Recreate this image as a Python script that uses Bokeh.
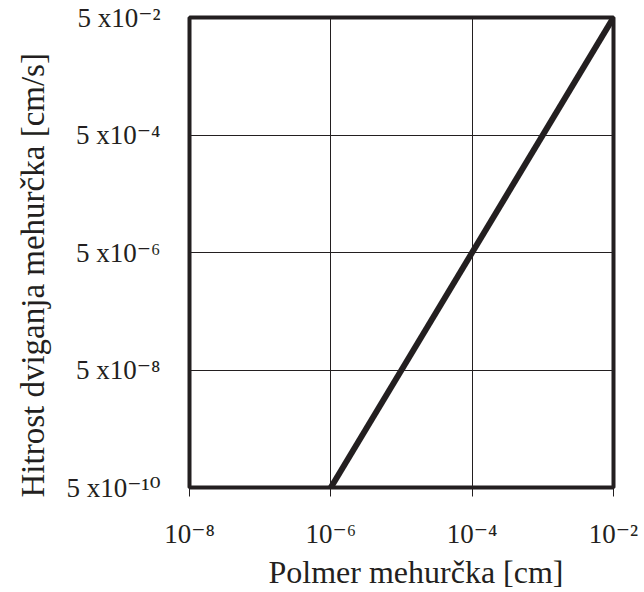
from bokeh.plotting import figure
from bokeh.models import FixedTicker, Title
from bokeh.embed import file_html
from bokeh.resources import INLINE

# --- data ---
radius_cm = [1e-6, 1e-2]          # Polmer mehurčka [cm]
velocity_cms = [5e-10, 5e-2]      # Hitrost dviganja mehurčka [cm/s]

x_ticks = [1e-8, 1e-6, 1e-4, 1e-2]
x_tick_labels = ["10⁻⁸", "10⁻⁶", "10⁻⁴", "10⁻²"]
y_ticks = [5e-10, 5e-8, 5e-6, 5e-4, 5e-2]
y_tick_labels = ["5 x10⁻¹⁰", "5 x10⁻⁸", "5 x10⁻⁶", "5 x10⁻⁴", "5 x10⁻²"]

x_title = "Polmer mehurčka [cm]"
y_title = "Hitrost dviganja mehurčka [cm/s]"

INK = "#231f20"
FONT = "'Liberation Serif', 'DejaVu Serif', serif"

p = figure(width=644, height=592, x_axis_type="log", y_axis_type="log",
           x_range=(x_ticks[0], x_ticks[-1]), y_range=(y_ticks[0], y_ticks[-1]),
           output_backend="svg", toolbar_location=None,
           min_border_left=189, min_border_right=31,
           min_border_top=17, min_border_bottom=105)
p.background_fill_color = "white"
p.border_fill_color = "white"
p.outline_line_color = INK
p.outline_line_width = 4

p.xaxis.ticker = FixedTicker(ticks=x_ticks, minor_ticks=[])
p.yaxis.ticker = FixedTicker(ticks=y_ticks, minor_ticks=[])
p.xaxis.major_label_overrides = {t: l for t, l in zip(x_ticks, x_tick_labels)}
p.yaxis.major_label_overrides = {t: l for t, l in zip(y_ticks, y_tick_labels)}

for ax in (p.xaxis, p.yaxis):
    ax.axis_line_color = None
    ax.minor_tick_line_color = None
    ax.major_label_text_font = FONT
    ax.major_label_text_font_size = "27px"
    ax.major_label_text_color = INK

p.xaxis.major_tick_in = 0
p.xaxis.major_tick_out = 9
p.xaxis.major_tick_line_color = INK
p.xaxis.major_tick_line_width = 1
p.xaxis.major_label_standoff = 22
p.yaxis.major_tick_line_color = None
p.yaxis.major_label_standoff = 23

p.xgrid.grid_line_color = INK
p.ygrid.grid_line_color = INK
p.xgrid.grid_line_width = 1
p.ygrid.grid_line_width = 1

p.line(radius_cm, velocity_cms, line_color=INK, line_width=6)

p.add_layout(Title(text=x_title, align="left", offset=79, standoff=0,
                   text_font=FONT, text_font_size="32px",
                   text_font_style="normal", text_color=INK), "below")
p.add_layout(Title(text=y_title, align="left", offset=-10, standoff=25,
                   text_font=FONT, text_font_size="33px",
                   text_font_style="normal", text_color=INK), "left")

open("out.html", "w").write(file_html(p, INLINE))
